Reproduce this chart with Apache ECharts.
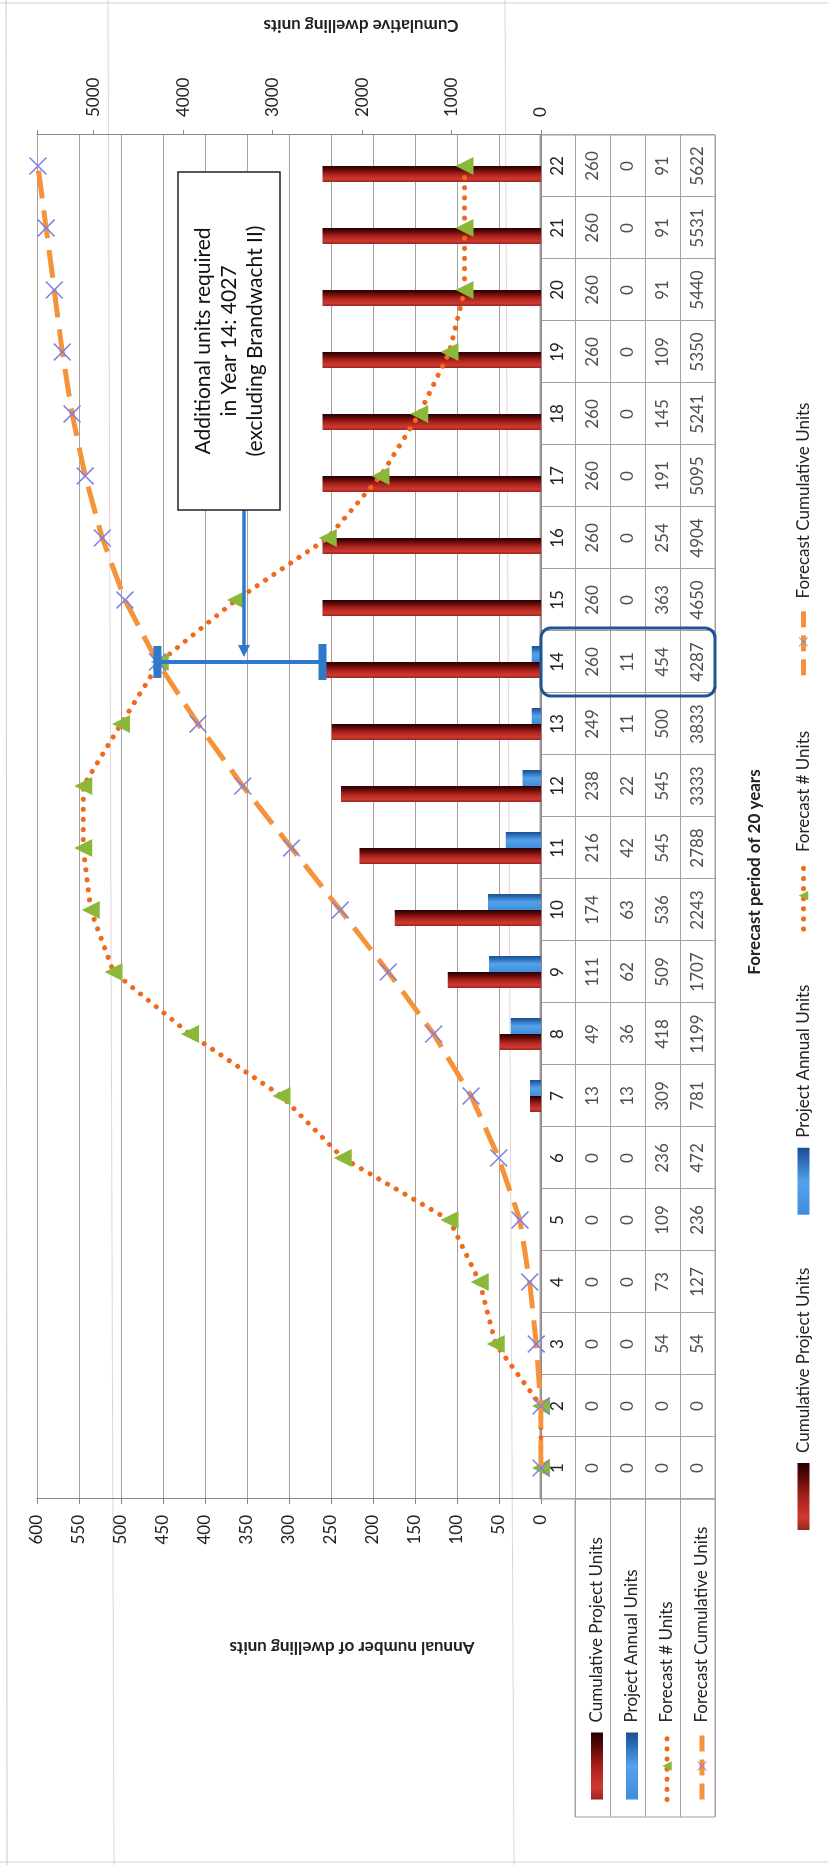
<!DOCTYPE html>
<html>
<head>
<meta charset="utf-8">
<script src="https://cdn.jsdelivr.net/npm/echarts@6/dist/echarts.min.js"></script>
<style>
  html, body { margin: 0; padding: 0; background: #fff; width: 828px; height: 1865px; overflow: hidden; }
  /* the chart is laid out landscape and turned a quarter turn counter-clockwise onto the portrait page */
  #frame { position: absolute; left: 0; top: 0; width: 1865px; height: 828px;
           transform-origin: 0 0; transform: rotate(-90deg) translate(-1865px, 0); }
</style>
</head>
<body>
<div id="frame"></div>
<script>
// ---- data ----
const years = ['1','2','3','4','5','6','7','8','9','10','11','12','13','14','15','16','17','18','19','20','21','22'];
const cumProjectUnits    = [0,0,0,0,0,0,13,49,111,174,216,238,249,260,260,260,260,260,260,260,260,260];
const projectAnnualUnits = [0,0,0,0,0,0,13,36,62,63,42,22,11,11,0,0,0,0,0,0,0,0];
const forecastUnits      = [0,0,54,73,109,236,309,418,509,536,545,545,500,454,363,254,191,145,109,91,91,91];
const forecastCumulative = [0,0,54,127,236,472,781,1199,1707,2243,2788,3333,3833,4287,4650,4904,5095,5241,5350,5440,5531,5622];
const seriesNames = ['Cumulative Project Units','Project Annual Units','Forecast # Units','Forecast Cumulative Units'];
const highlightYear = '14';
const noteLines = ['Additional units required', 'in Year 14: 4027', '(excluding Brandwacht II)'];

// ---- styles ----
const FONT = 'Lato, "Open Sans", sans-serif';
const GRID_C = '#a89e9e';
const AXIS_C = '#8e8686';
const TXT = '#222';
const CROSS = 'path://M0,1.2L1.2,0L10,8.8L18.8,0L20,1.2L11.2,10L20,18.8L18.8,20L10,11.2L1.2,20L0,18.8L8.8,10Z';
const DOTS = {color: '#ef6a1c', width: 5, type: [0.1, 10], cap: 'round'};
const DASHES = {color: '#f6923a', width: 5, type: [28, 12], cap: 'butt'};

const redBar = new echarts.graphic.LinearGradient(0, 0, 1, 0, [
  {offset: 0, color: '#9a2520'}, {offset: 0.18, color: '#cf3a30'}, {offset: 0.5, color: '#a8211b'},
  {offset: 0.8, color: '#560807'}, {offset: 1, color: '#240000'}
]);
const blueBar = new echarts.graphic.LinearGradient(0, 0, 1, 0, [
  {offset: 0, color: '#3f8ddc'}, {offset: 0.5, color: '#55a2ea'}, {offset: 0.8, color: '#2c6db8'}, {offset: 1, color: '#1d4f8e'}
]);

// data table cells: [column, row, value]; row 0 holds the year numbers
const tableRows = [cumProjectUnits, projectAnnualUnits, forecastUnits, forecastCumulative];
const tableCells = [];
tableRows.forEach((row, r) => row.forEach((v, i) => tableCells.push([i, r + 1, v])));

const legendData = [
  {name: seriesNames[0], icon: 'rect'},
  {name: seriesNames[1], icon: 'rect'},
  {name: seriesNames[2], lineStyle: {width: 5, type: [0.1, 10], cap: 'round'}},
  {name: seriesNames[3], lineStyle: {width: 5, type: [16, 8], cap: 'butt'}}
];

const chart = echarts.init(document.getElementById('frame'), null, {width: 1865, height: 828});

chart.setOption({
  animation: false,
  textStyle: {fontFamily: FONT},
  grid: [
    {left: 366, right: 135, top: 37, height: 504},
    {left: 366, right: 135, top: 540, height: 175, show: true, borderColor: GRID_C, borderWidth: 1},
    {left: 48, width: 318, top: 575, height: 140, show: true, borderColor: GRID_C, borderWidth: 1}
  ],
  legend: [
    {
      data: legendData, selectedMode: false, left: 330, top: 790, itemGap: 53,
      itemWidth: 67, itemHeight: 12,
      textStyle: {fontSize: 17, color: TXT, fontFamily: FONT, padding: [0, 0, 0, 5]}
    },
    {
      data: legendData, selectedMode: false, orient: 'vertical', left: 58, top: 582, itemGap: 15,
      itemWidth: 67, itemHeight: 12,
      textStyle: {fontSize: 17, color: TXT, fontFamily: FONT, lineHeight: 20, padding: [0, 0, 0, 5]}
    }
  ],
  xAxis: [
    {
      gridIndex: 0, type: 'category', data: years,
      axisLine: {lineStyle: {color: AXIS_C}}, axisTick: {show: false},
      axisLabel: {interval: 0, fontSize: 17, color: TXT, margin: 8}
    },
    {
      gridIndex: 1, type: 'category', data: years,
      axisLine: {show: false}, axisTick: {show: false}, axisLabel: {show: false},
      splitLine: {show: true, interval: 0, lineStyle: {color: GRID_C, width: 1}}
    },
    {gridIndex: 2, type: 'category', data: [''], show: false}
  ],
  yAxis: [
    {
      gridIndex: 0, type: 'value', min: 0, max: 600, interval: 50,
      axisLine: {show: true, lineStyle: {color: AXIS_C}},
      axisTick: {show: true, length: 5, lineStyle: {color: AXIS_C}},
      axisLabel: {fontSize: 17, color: TXT, margin: 16},
      splitLine: {show: true, lineStyle: {color: GRID_C, width: 1}}
    },
    {
      gridIndex: 0, type: 'value', position: 'right', min: 0, max: 5633, interval: 1000,
      axisLine: {show: true, lineStyle: {color: AXIS_C}},
      axisTick: {show: true, length: 5, lineStyle: {color: AXIS_C}},
      axisLabel: {fontSize: 17, color: TXT, margin: 18, formatter: v => (v % 1000 === 0 ? String(v) : '')},
      splitLine: {show: false}
    },
    {
      gridIndex: 1, type: 'category', inverse: true, data: [''].concat(seriesNames),
      axisLine: {show: false}, axisTick: {show: false}, axisLabel: {show: false},
      splitLine: {show: true, interval: 0, lineStyle: {color: GRID_C, width: 1}}
    },
    {
      gridIndex: 2, type: 'category', inverse: true, data: seriesNames,
      axisLine: {show: false}, axisTick: {show: false}, axisLabel: {show: false},
      splitLine: {show: true, interval: 0, lineStyle: {color: GRID_C, width: 1}}
    }
  ],
  series: [
    {
      name: seriesNames[0], type: 'bar', xAxisIndex: 0, yAxisIndex: 0, data: cumProjectUnits,
      barWidth: 16, barGap: '0%', itemStyle: {color: redBar}
    },
    {
      name: seriesNames[1], type: 'bar', xAxisIndex: 0, yAxisIndex: 0, data: projectAnnualUnits,
      barWidth: 16, itemStyle: {color: blueBar}
    },
    {
      name: seriesNames[2], type: 'line', xAxisIndex: 0, yAxisIndex: 0, data: forecastUnits,
      symbol: 'triangle', symbolSize: 18, showAllSymbol: true,
      itemStyle: {color: '#8cb83a'},
      lineStyle: DOTS,
      z: 4
    },
    {
      name: seriesNames[3], type: 'line', xAxisIndex: 0, yAxisIndex: 1, data: forecastCumulative,
      symbol: CROSS, symbolSize: 18, showAllSymbol: true,
      itemStyle: {color: '#7f80e4'},
      lineStyle: DASHES,
      z: 5
    },
    {
      name: 'table', type: 'scatter', xAxisIndex: 1, yAxisIndex: 2, data: tableCells,
      symbol: 'circle', symbolSize: 1, silent: true,
      itemStyle: {color: 'rgba(0,0,0,0)'},
      label: {show: true, position: 'inside', formatter: p => String(p.value[2]), fontSize: 17, color: TXT, fontFamily: FONT}
    }
  ]
});

// ---- annotation, titles and table highlight, placed through the axes ----
const hi = years.indexOf(highlightYear);
const cumPt = chart.convertToPixel({xAxisIndex: 0, yAxisIndex: 1}, [hi, forecastCumulative[hi]]);
const barPt = chart.convertToPixel({xAxisIndex: 0, yAxisIndex: 0}, [hi, cumProjectUnits[hi]]);
const colPt = chart.convertToPixel({xAxisIndex: 1, yAxisIndex: 2}, [hi, 0]);
const band = 1364 / years.length;
const dimX = cumPt[0];
const BLUE = '#2f78cc';

const boxL = 1355, boxR = 1693, boxT = 178, boxB = 280, linkY = 244;

chart.setOption({
  graphic: [
    // faint lines of the page the chart sits on
    {type: 'line', silent: true, shape: {x1: 0, y1: 7, x2: 1865, y2: 6}, style: {stroke: '#cfc6c8', lineWidth: 1}},
    {type: 'line', silent: true, shape: {x1: 0, y1: 114, x2: 1865, y2: 108}, style: {stroke: '#e4d2d8', lineWidth: 1}},
    {type: 'line', silent: true, shape: {x1: 0, y1: 514, x2: 1865, y2: 505}, style: {stroke: '#e4d2d8', lineWidth: 1}},
    {type: 'line', silent: true, shape: {x1: 3, y1: 0, x2: 3, y2: 828}, style: {stroke: '#d8d0d2', lineWidth: 1}},
    {type: 'line', silent: true, shape: {x1: 1862, y1: 0, x2: 1862, y2: 828}, style: {stroke: '#d8d0d2', lineWidth: 1}},

    // axis titles
    {type: 'text', silent: true, x: 218, y: 352, rotation: Math.PI / 2,
     style: {text: 'Annual number of dwelling units', font: 'bold 17px ' + FONT, fill: TXT, align: 'center', verticalAlign: 'middle'}},
    {type: 'text', silent: true, x: 1840, y: 361, rotation: Math.PI / 2,
     style: {text: 'Cumulative dwelling units', font: 'bold 17px ' + FONT, fill: TXT, align: 'center', verticalAlign: 'middle'}},
    {type: 'text', silent: true, x: 993, y: 755,
     style: {text: 'Forecast period of 20 years', font: 'bold 17px ' + FONT, fill: TXT, align: 'center', verticalAlign: 'middle'}},

    // highlighted year in the data table
    {type: 'rect', silent: true, z: 50,
     shape: {x: colPt[0] - band / 2 - 3, y: 541, width: band + 6, height: 174, r: 10},
     style: {fill: 'none', stroke: '#1f5597', lineWidth: 3}},

    // gap between forecast and project cumulative units in the highlighted year
    {type: 'line', silent: true, z: 50, shape: {x1: dimX, y1: cumPt[1], x2: dimX, y2: barPt[1]},
     style: {stroke: BLUE, lineWidth: 4}},
    {type: 'rect', silent: true, z: 50, shape: {x: dimX - 16, y: cumPt[1] - 4, width: 32, height: 8},
     style: {fill: BLUE}},
    {type: 'rect', silent: true, z: 50, shape: {x: dimX - 18, y: barPt[1] - 4, width: 36, height: 8},
     style: {fill: BLUE}},
    {type: 'line', silent: true, z: 50, shape: {x1: boxL, y1: linkY, x2: dimX + 14, y2: linkY},
     style: {stroke: BLUE, lineWidth: 3.5}},
    {type: 'polygon', silent: true, z: 50,
     shape: {points: [[dimX + 5, linkY], [dimX + 17, linkY - 6], [dimX + 17, linkY + 6]]},
     style: {fill: BLUE}},

    // note box
    {type: 'rect', silent: true, z: 60, shape: {x: boxL, y: boxT, width: boxR - boxL, height: boxB - boxT},
     style: {fill: '#fff', stroke: '#222', lineWidth: 1.5}},
    {type: 'text', silent: true, z: 61, x: (boxL + boxR) / 2, y: (boxT + boxB) / 2,
     style: {text: noteLines.join('\n'), font: '21px ' + FONT, lineHeight: 26, fill: '#111',
             align: 'center', verticalAlign: 'middle'}}
  ]
});
</script>
</body>
</html>
